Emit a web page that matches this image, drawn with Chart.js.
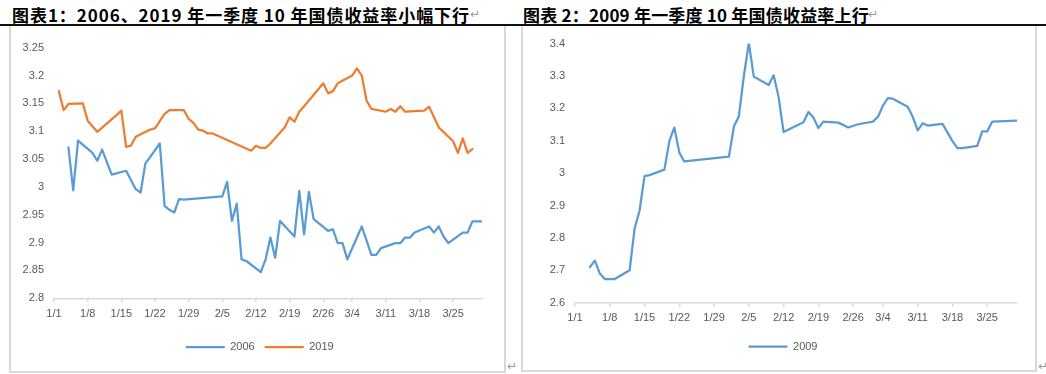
<!DOCTYPE html>
<html><head><meta charset="utf-8">
<script src="https://cdn.jsdelivr.net/npm/chart.js@4.4.1/dist/chart.umd.min.js"></script>
<style>
body{margin:0;width:1046px;height:374px;background:#fff;position:relative;overflow:hidden}
.title{position:absolute;top:5px;font-family:"Noto Sans CJK SC";font-weight:700;font-size:17px;line-height:19px;white-space:nowrap;color:#000}
.rule{position:absolute;left:0;top:24px;width:1046px;height:2px;background:#111}
.box{position:absolute;border:2px solid #d9d9d9;border-top:none;box-sizing:border-box}
.ret{position:absolute;color:#9a9a9a;font-family:"DejaVu Sans";font-size:12px;line-height:14px}
canvas{position:absolute}
</style></head>
<body>
<div class="title" id="t1">图表1：2006、2019 年一季度 10 年国债收益率小幅下行</div>
<div class="ret" style="left:470px;top:7px">↵</div>
<div class="title" id="t2" style="left:523px">图表 2：2009 年一季度 10 年国债收益率上行</div>
<div class="ret" style="left:868px;top:7px">↵</div>
<div class="rule"></div>
<div class="box" style="left:9px;top:26px;width:497px;height:347px"></div>
<div class="box" style="left:521px;top:26px;width:516px;height:346px"></div>
<div class="ret" style="left:507px;top:359px">↵</div>
<div class="ret" style="left:1038px;top:359px">↵</div>
<canvas id="c1" width="493" height="344" style="left:11px;top:27px"></canvas>
<canvas id="c2" width="513" height="344" style="left:523px;top:27px"></canvas>
<script>
// x axis: day index from 1/1 (0 = 1/1)
const xTickDays = [0, 7, 14, 21, 28, 35, 42, 49, 56, 62, 69, 76, 83];
const xTickLabels = ['1/1','1/8','1/15','1/22','1/29','2/5','2/12','2/19','2/26','3/4','3/11','3/18','3/25'];

const yTicks1 = [2.8, 2.85, 2.9, 2.95, 3, 3.05, 3.1, 3.15, 3.2, 3.25];
const yTickLabels1 = ['2.8','2.85','2.9','2.95','3','3.05','3.1','3.15','3.2','3.25'];
const yTicks2 = [2.6, 2.7, 2.8, 2.9, 3, 3.1, 3.2, 3.3, 3.4];
const yTickLabels2 = ['2.6','2.7','2.8','2.9','3','3.1','3.2','3.3','3.4'];

const days2006 = [3,4,5,8,9,10,12,15,17,18,19,22,23,24,25,26,27,35,36,37,38,39,40,43,44,45,46,47,50,51,52,53,54,57,58,59,60,61,64,66,67,68,71,72,73,74,75,78,79,80,81,82,85,86,87,89];
const yield2006 = [3.071,2.994,3.083,3.061,3.047,3.067,3.022,3.029,2.996,2.990,3.042,3.078,2.966,2.959,2.954,2.978,2.977,2.983,3.009,2.939,2.970,2.870,2.867,2.847,2.870,2.909,2.873,2.939,2.911,2.993,2.915,2.991,2.942,2.921,2.924,2.899,2.899,2.870,2.929,2.878,2.878,2.890,2.899,2.899,2.909,2.909,2.918,2.929,2.918,2.929,2.911,2.899,2.918,2.918,2.938,2.938];

const days2019 = [1,2,3,6,7,9,13,14,15,16,17,20,21,23,24,27,28,29,30,31,32,33,41,42,43,44,45,48,49,50,51,52,55,56,57,58,59,62,63,64,65,66,69,70,71,72,73,77,78,80,83,84,85,86,87];
const yield2019 = [3.172,3.138,3.149,3.150,3.119,3.099,3.129,3.137,3.072,3.074,3.090,3.103,3.105,3.131,3.138,3.138,3.122,3.115,3.103,3.101,3.096,3.096,3.065,3.074,3.070,3.070,3.078,3.107,3.125,3.117,3.135,3.145,3.176,3.186,3.168,3.172,3.186,3.200,3.213,3.200,3.155,3.140,3.135,3.140,3.135,3.145,3.135,3.137,3.144,3.107,3.082,3.061,3.087,3.061,3.068];

const days2009 = [3,4,5,6,8,11,12,13,14,15,18,19,20,21,22,31,32,33,34,35,36,39,40,41,42,46,47,48,49,50,53,54,55,57,60,61,62,63,64,67,68,69,70,71,74,76,77,78,81,82,83,84,89];
const yield2009 = [2.710,2.730,2.690,2.673,2.673,2.700,2.829,2.884,2.991,2.994,3.011,3.099,3.141,3.064,3.036,3.051,3.144,3.176,3.300,3.402,3.298,3.272,3.302,3.235,3.127,3.157,3.189,3.172,3.139,3.159,3.156,3.149,3.141,3.151,3.159,3.174,3.208,3.232,3.230,3.205,3.174,3.132,3.154,3.147,3.152,3.099,3.077,3.077,3.084,3.129,3.129,3.159,3.162];

// fit title widths
function fitTitle(id, left, target){
  const el = document.getElementById(id);
  el.style.left = left + 'px';
  const w = el.getBoundingClientRect().width;
  const n = el.textContent.length;
  el.style.letterSpacing = ((target - w) / n) + 'px';
}
fitTitle('t1', 12, 458);
fitTitle('t2', 523, 346);

const FONT = {family: '"Liberation Sans", Arial, sans-serif', size: 11};
const TXT = '#595959';

function pts(d, v){ return d.map((x, i) => ({x: x, y: v[i]})); }

// nudges the legend horizontally (Excel centres it slightly differently)
const legendShift = {
  id: 'legendShift',
  afterLayout(chart, args, opts){
    const lg = chart.legend;
    if (lg && opts.dx) { lg.left += opts.dx; lg.right += opts.dx; }
  }
};

function makeChart(id, datasets, yTicks, yLabels, L){
  return new Chart(document.getElementById(id), {
    type: 'line',
    data: {datasets: datasets.map(ds => ({
      label: ds.label, data: ds.data, borderColor: ds.color, backgroundColor: ds.color,
      borderWidth: 2.25, pointRadius: 0, pointHoverRadius: 0, tension: 0, fill: false,
      pointStyle: 'line', borderJoinStyle: 'round', borderCapStyle: 'round'
    }))},
    plugins: [legendShift],
    options: {
      responsive: false, animation: false, devicePixelRatio: 1, events: [],
      layout: {padding: {left: L.pl, right: L.pr, top: L.pt, bottom: L.pb}},
      plugins: {
        tooltip: {enabled: false},
        legendShift: {dx: L.dx},
        legend: {position: 'bottom', labels: {usePointStyle: true, pointStyle: 'line', pointStyleWidth: 39,
          font: FONT, color: TXT, padding: 10}}
      },
      scales: {
        x: {type: 'linear', min: 0, max: 89,
          afterBuildTicks: s => { s.ticks = xTickDays.map(v => ({value: v})); },
          afterFit: s => { s.height = L.xh; },
          ticks: {autoSkip: false, maxRotation: 0, minRotation: 0, padding: 5, font: FONT, color: TXT,
            callback: (v, i) => xTickLabels[i]},
          grid: {display: true, drawOnChartArea: false, drawTicks: true, tickLength: 4, color: '#d9d9d9', lineWidth: 1.5},
          border: {display: true, color: '#d9d9d9', width: 1.5}
        },
        y: {min: yTicks[0], max: yTicks[yTicks.length - 1],
          afterBuildTicks: s => { s.ticks = yTicks.map(v => ({value: v})); },
          afterFit: s => { s.width = L.yw; },
          ticks: {padding: 10, font: FONT, color: TXT, callback: (v, i) => yLabels[i]},
          grid: {display: false, drawTicks: false},
          border: {display: false}
        }
      }
    }
  });
}

makeChart('c1', [
  {label: '2006', data: pts(days2006, yield2006), color: '#5B9BD5'},
  {label: '2019', data: pts(days2019, yield2019), color: '#ED7D31'}
], yTicks1, yTickLabels1, {pl: 10, pr: 22, pt: 20.7, pb: 8.5, yw: 33, xh: 33.2, dx: 8.2});

makeChart('c2', [
  {label: '2009', data: pts(days2009, yield2009), color: '#5B9BD5'}
], yTicks2, yTickLabels2, {pl: 26, pr: 19, pt: 9.7, pb: 8.8, yw: 26, xh: 28.5, dx: 0});
</script>
</body></html>
